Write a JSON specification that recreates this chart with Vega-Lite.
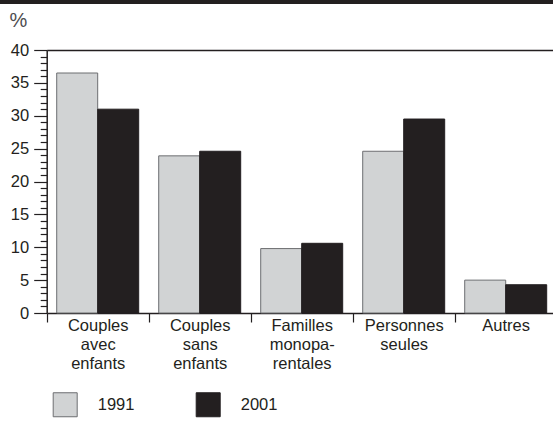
{
  "$schema": "https://vega.github.io/schema/vega-lite/v6.json",
  "width": 553,
  "height": 313,
  "autosize": {"type": "none"},
  "padding": {"left": 0, "top": 0, "right": 0, "bottom": 108},
  "background": "white",
  "config": {
    "font": "Liberation Sans",
    "view": {"stroke": "#231f20", "strokeWidth": 8, "strokeDash": [553, 100000]}
  },
  "data": {
    "values": [
      {"Category": "Couples avec enfants", "Year": "1991", "Value": 36.5},
      {"Category": "Couples avec enfants", "Year": "2001", "Value": 31.0},
      {"Category": "Couples sans enfants", "Year": "1991", "Value": 23.9},
      {"Category": "Couples sans enfants", "Year": "2001", "Value": 24.6},
      {"Category": "Familles monoparentales", "Year": "1991", "Value": 9.8},
      {"Category": "Familles monoparentales", "Year": "2001", "Value": 10.6},
      {"Category": "Personnes seules", "Year": "1991", "Value": 24.6},
      {"Category": "Personnes seules", "Year": "2001", "Value": 29.5},
      {"Category": "Autres", "Year": "1991", "Value": 5.0},
      {"Category": "Autres", "Year": "2001", "Value": 4.3}
    ]
  },
  "layer": [
    {
      "mark": {"type": "bar", "strokeWidth": 1},
      "encoding": {
        "x": {
          "field": "Category", "type": "nominal", "sort": null,
          "scale": {"range": [46.7, 556.7], "paddingInner": 0, "paddingOuter": 0},
          "axis": {
            "title": null, "orient": "bottom", "labelAngle": 0, "tickBand": "extent",
            "tickSize": 9, "labelPadding": -5, "labelFontSize": 16.5, "labelLineHeight": 19.3,
            "labelColor": "#231f20", "labelFont": "Liberation Sans",
            "labelExpr": "datum.label == 'Familles monoparentales' ? ['Familles','monopa-','rentales'] : split(datum.label, ' ')",
            "domainColor": "#231f20", "domainWidth": 1.5, "tickColor": "#231f20", "tickWidth": 1.2,
            "grid": false
          }
        },
        "xOffset": {"field": "Year", "type": "nominal", "scale": {"paddingInner": 0, "paddingOuter": 0.244}},
        "y": {
          "field": "Value", "type": "quantitative",
          "scale": {"domain": [0, 40], "range": [313, 50], "nice": false},
          "axis": {
            "title": "%", "titleAngle": 0, "titleAlign": "left", "titleBaseline": "alphabetic",
            "titleX": -37.7, "titleY": 26.5, "titleFontSize": 20, "titleFontWeight": "normal",
            "titleColor": "#4d4d4f", "titleFont": "Liberation Sans",
            "values": [0,1,2,3,4,5,6,7,8,9,10,11,12,13,14,15,16,17,18,19,20,21,22,23,24,25,26,27,28,29,30,31,32,33,34,35,36,37,38,39,40],
            "offset": -46.7,
            "labelExpr": "datum.value % 5 === 0 ? datum.label : ''",
            "tickSize": {"condition": {"test": "datum.value % 5 === 0", "value": 13}, "value": 6.5},
            "labelPadding": 5, "labelFontSize": 16.5, "labelColor": "#231f20", "labelFont": "Liberation Sans",
            "labelOverlap": false, "labelBound": false, "grid": false,
            "domainColor": "#231f20", "domainWidth": 1.5, "tickColor": "#231f20", "tickWidth": 1.2
          }
        },
        "fill": {
          "field": "Year", "type": "nominal",
          "scale": {"range": ["#d1d3d4", "#231f20"]},
          "legend": {
            "title": null, "orient": "none", "legendX": 52.7, "legendY": 392, "direction": "horizontal",
            "symbolType": "square", "symbolSize": 576, "symbolStrokeWidth": 1,
            "labelFontSize": 16.5, "labelColor": "#231f20", "labelFont": "Liberation Sans",
            "labelOffset": 20, "columnPadding": 59, "padding": 0
          }
        },
        "stroke": {
          "field": "Year", "type": "nominal",
          "scale": {"range": ["#6d6e71", "#231f20"]},
          "legend": {
            "title": null, "orient": "none", "legendX": 52.7, "legendY": 392, "direction": "horizontal",
            "symbolType": "square", "symbolSize": 576, "symbolStrokeWidth": 1,
            "labelFontSize": 16.5, "labelColor": "#231f20", "labelFont": "Liberation Sans",
            "labelOffset": 20, "columnPadding": 59, "padding": 0
          }
        }
      }
    },
    {
      "mark": {"type": "rule", "opacity": 0},
      "encoding": {
        "x": {
          "field": "Category", "type": "nominal", "sort": null,
          "axis": {
            "orient": "top", "offset": -50, "ticks": false, "labels": false, "title": null,
            "domainColor": "#231f20", "domainWidth": 1.5, "grid": false
          }
        }
      }
    }
  ],
  "resolve": {"axis": {"x": "independent"}}
}
